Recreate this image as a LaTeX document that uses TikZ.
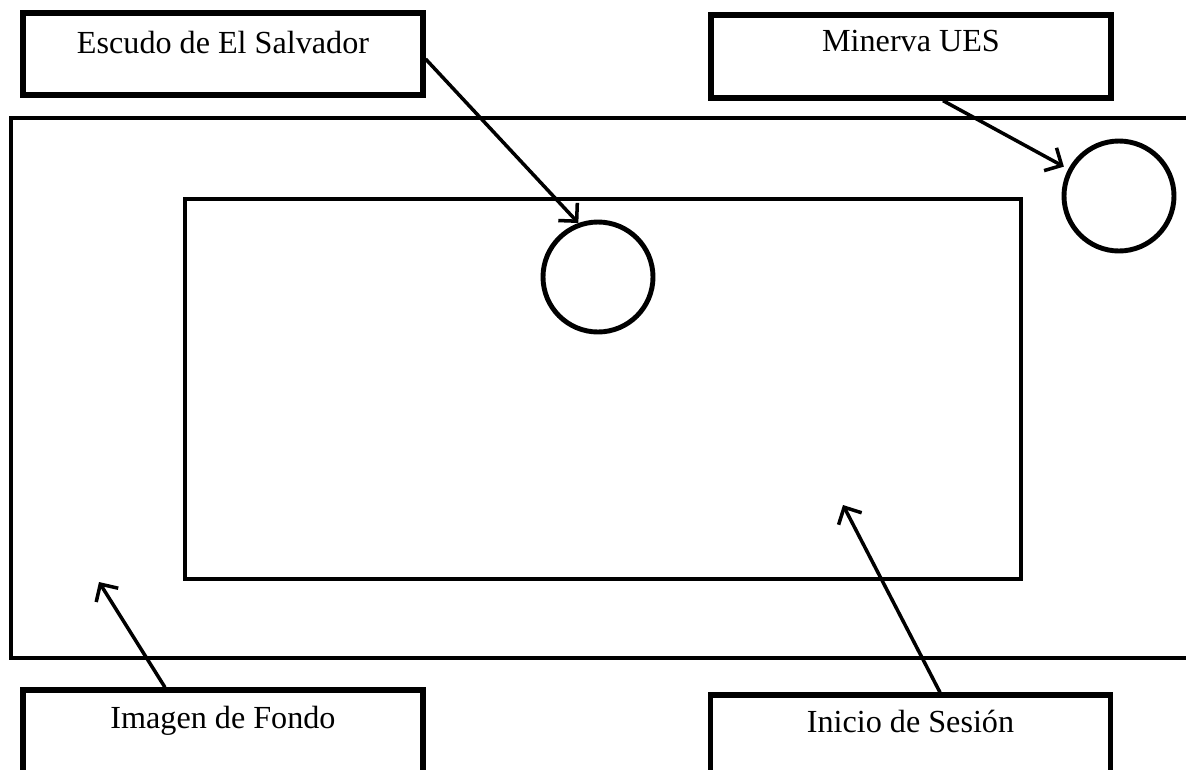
\documentclass[tikz,border=0pt]{standalone}
\usepackage{fontspec}
\setmainfont{Liberation Serif}
\usepackage{tikz}
\usetikzlibrary{positioning, arrows.meta, calc}
\tikzset{
  caja/.style={rectangle, draw=black, line width=3pt, minimum width=8cm, inner sep=0pt},
  rotulo/.style={font=\fontsize{18.3}{22}\selectfont, inner sep=0pt},
  marco/.style={draw=black, line width=2.6pt},
  logo/.style={circle, draw=black, line width=2.8pt, minimum size=2.2cm, inner sep=0pt},
  flecha/.style={line width=2pt, -{Straight Barb[length=2.6mm,width=5.2mm]}}
}

\begin{document}
\begin{tikzpicture}

            \useasboundingbox (0,0) rectangle (23.72,-15.38);
            \clip (0,0) rectangle (23.72,-15.38);

            % Pantalla (fondo y recuadro central)
            \draw[marco] (0.22,-2.36) rectangle (24.6,-13.16);
            \draw[marco] (3.70,-3.98) rectangle (20.42,-11.58);

            % Logos
            \node[logo] (escudo) at (11.96,-5.54) {};
            \node[logo] (minerva) at (22.38,-3.92) {};

            % Cajas de texto superiores
            \node[caja, minimum height=1.64cm] (cajaEscudo) at (4.46,-1.08) {};
            \node[rotulo, yshift=-0.64cm] at (cajaEscudo.north) {Escudo de El Salvador};

            \node[caja, minimum height=1.66cm] (cajaMinerva) at (18.22,-1.13) {};
            \node[rotulo, yshift=-0.58cm] at (cajaMinerva.north) {Minerva UES};

            % Cajas de texto inferiores
            \node[caja, minimum height=3cm] (cajaFondo) at (4.46,-15.3) {};
            \node[rotulo, yshift=-0.66cm] at (cajaFondo.north) {Imagen de Fondo};

            \node[caja, minimum height=3cm] (cajaSesion) at (18.21,-15.4) {};
            \node[rotulo, yshift=-0.58cm] at (cajaSesion.north) {Inicio de Sesión};

            % Flechas
            \coordinate (fondo) at (1.98,-11.64);
            \coordinate (sesion) at (16.86,-10.1);

            \draw[flecha] ($(cajaEscudo.east)+(0,-0.1)$) -- (escudo.110);
            \draw[flecha, shorten >=0.1cm] ($(cajaMinerva.south)+(0.64,0)$) -- (minerva.152);
            \draw[flecha] ($(cajaFondo.north)+(-1.16,0)$) -- (fondo);
            \draw[flecha] ($(cajaSesion.north)+(0.59,0)$) -- (sesion);

\end{tikzpicture}
\end{document}
